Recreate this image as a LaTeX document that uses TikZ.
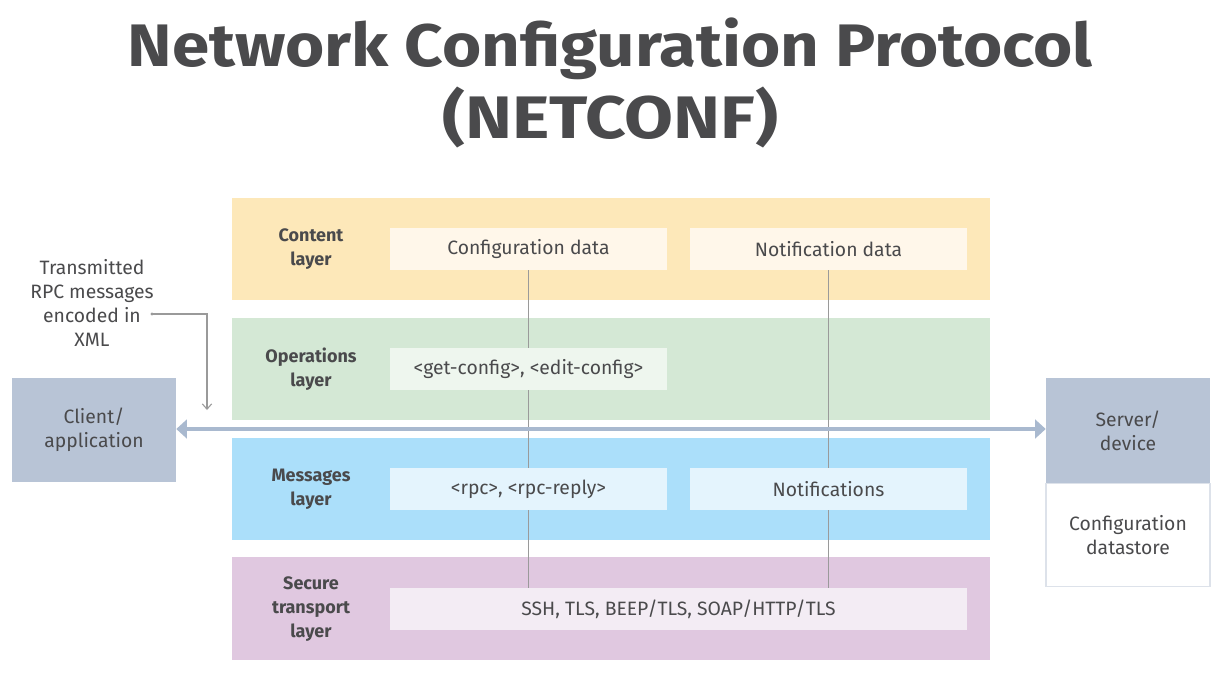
\documentclass[tikz,border=0pt]{standalone}
\usepackage{fontspec}
\usepackage{graphicx}
\setmainfont{Fira Sans}
\usetikzlibrary{arrows.meta}
\definecolor{txtc}{HTML}{4A4A4C}
\definecolor{contentband}{HTML}{FDE8B9}
\definecolor{contentin}{HTML}{FFF7EA}
\definecolor{opsband}{HTML}{D4E8D5}
\definecolor{opsin}{HTML}{EEF6EE}
\definecolor{msgband}{HTML}{ABDFFA}
\definecolor{msgin}{HTML}{E4F4FD}
\definecolor{secband}{HTML}{E0C8E0}
\definecolor{secin}{HTML}{F3ECF4}
\definecolor{devc}{HTML}{B8C4D6}
\definecolor{arrc}{HTML}{A9B9CF}
\definecolor{linec}{HTML}{9A9A9A}
\definecolor{storeb}{HTML}{DDE2EA}
\newdimen\pxu \pxu=0.75pt
\pgfdeclarelayer{bandlayer}
\pgfdeclarelayer{linelayer}
\pgfsetlayers{bandlayer,linelayer,main}
\tikzset{
  band/.style={rectangle, inner sep=0pt, minimum width=758\pxu, minimum height=102\pxu},
  innerbox/.style={rectangle, inner sep=0pt, minimum width=277\pxu, minimum height=42\pxu,
    font=\fontsize{14.5}{18}\selectfont, text=txtc},
  lbl/.style={align=center, font=\fontsize{13.5}{18}\selectfont\bfseries, text=txtc},
  txt/.style={align=center, font=\fontsize{14.5}{18}\selectfont, text=txtc},
  devbox/.style={rectangle, inner sep=0pt, fill=devc, minimum width=164\pxu, minimum height=104\pxu,
    align=center, font=\fontsize{14.5}{18}\selectfont, text=txtc},
  vline/.style={draw=linec, line width=1.1pt},
  titlefont/.style={font=\fontsize{45}{45}\selectfont\bfseries, text=txtc, inner sep=0pt, anchor=base}
}
\begin{document}
\begin{tikzpicture}[x=0.75pt, y=-0.75pt]
\useasboundingbox (0,0) rectangle (1230,682);

% title
\node[titlefont] (title1) at (610,66) {\resizebox{965\pxu}{\height}{Network Configuration Protocol}};
\node[titlefont] (title2) at (610,138) {\resizebox{336\pxu}{\height}{(NETCONF)}};

% bands
\begin{pgfonlayer}{bandlayer}
\fill[white] (0,0) rectangle (1230,682);
\node[band, fill=contentband] (content) at (611,249) {};
\node[band, fill=opsband] (ops) at (611,369) {};
\node[band, fill=msgband] (msg) at (611,489) {};
\node[band, fill=secband, minimum height=103\pxu] (sec) at (611,608.5) {};
\end{pgfonlayer}

% layer labels
\node[lbl] (lcontent) at (311,249) {Content\\layer};
\node[lbl] (lops) at (311,369) {Operations\\layer};
\node[lbl] (lmsg) at (311,489) {Messages\\layer};
\node[lbl] (lsec) at (311,609) {Secure\\transport\\layer};

% inner boxes
\node[innerbox, fill=contentin] (cfg) at (528.5,249) {Configuration data};
\node[innerbox, fill=contentin] (ntf) at (828.5,249) {Notification data};
\node[innerbox, fill=opsin] (getcfg) at (528.5,369) {<get-config>, <edit-config>};
\node[innerbox, fill=msgin] (rpc) at (528.5,489) {<rpc>, <rpc-reply>};
\node[innerbox, fill=msgin] (nots) at (828.5,489) {Notifications};
\node[innerbox, fill=secin, minimum width=577\pxu] (ssh) at (678.5,609) {SSH, TLS, BEEP/TLS, SOAP/HTTP/TLS};

% vertical lines
\begin{pgfonlayer}{linelayer}
\draw[vline] (cfg.south) -- (cfg.south |- ssh.north);
\draw[vline] (ntf.south) -- (ntf.south |- ssh.north);
\end{pgfonlayer}

% client and server
\node[devbox] (client) at (94,429.5) {Client/\\application};
\node[devbox, minimum height=105\pxu] (server) at (1128,430.5) {Server/\\device};
\node[devbox, fill=white, draw=storeb, line width=0.8pt, minimum height=103\pxu, anchor=north] (store) at (server.south) {Configuration\\datastore};

% double arrow
\draw[arrc, line width=2.6pt, {Triangle[length=8pt,width=14pt]}-{Triangle[length=8pt,width=14pt]}]
  (client.east |- 0,429) -- (server.west |- 0,429);

% annotation
\node[txt] (ann) at (92,303) {Transmitted\\RPC messages\\encoded in\\XML};
\coordinate (dot) at (152,314);
\coordinate (tipend) at (207,410);
\fill[linec] (dot) circle (1.6);
\draw[linec, line width=0.8pt, -{Straight Barb[length=4pt,width=7pt]}] (dot) -| (tipend);
\end{tikzpicture}
\end{document}
